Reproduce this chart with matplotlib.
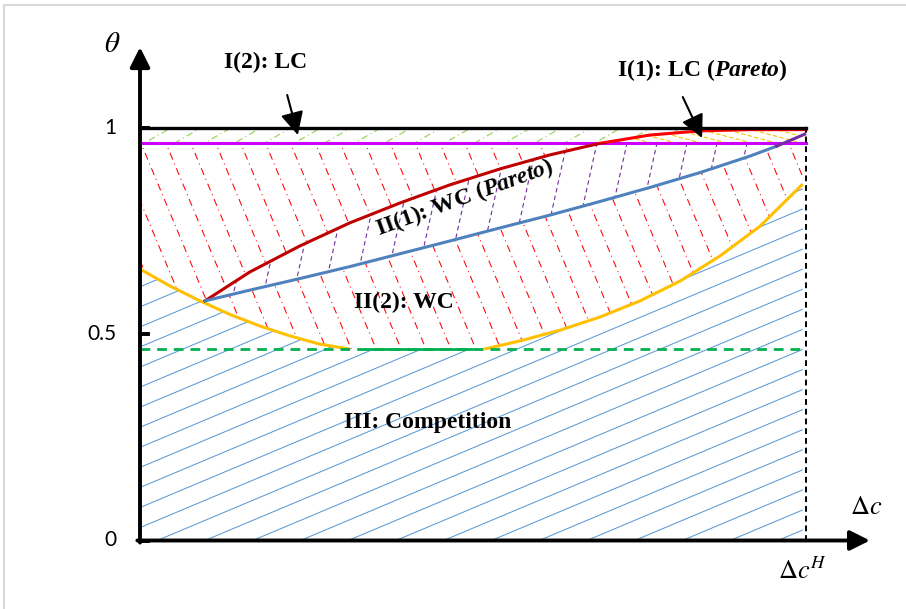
import matplotlib
matplotlib.use('Agg')
import matplotlib.pyplot as plt
import numpy as np
from matplotlib.collections import LineCollection
from matplotlib.patches import Polygon, Rectangle

plt.rcParams['mathtext.fontset'] = 'custom'
plt.rcParams['mathtext.rm'] = 'Liberation Serif:bold'
plt.rcParams['mathtext.it'] = 'Liberation Serif:italic'
plt.rcParams['mathtext.bf'] = 'Liberation Serif:bold'
plt.rcParams['mathtext.bfit'] = 'Liberation Serif:bold:italic'

# boundary curves (x = dc / dc^H, y = theta)
yl_x = np.array([0.0, 0.045, 0.090, 0.135, 0.180, 0.225, 0.270, 0.315])
yl_t = np.array([0.658, 0.617, 0.581, 0.548, 0.520, 0.496, 0.476, 0.464])
yr_x = np.array([0.517, 0.571, 0.631, 0.691, 0.751, 0.811, 0.871, 0.931, 0.995])
yr_t = np.array([0.464, 0.484, 0.510, 0.542, 0.581, 0.629, 0.690, 0.762, 0.864])
green_t = 0.464
green_solid = [0.338, 0.498]
mag_t = 0.964
red_x = np.array([0.0976, 0.165, 0.240, 0.315, 0.390, 0.465, 0.541, 0.616, 0.691,
                  0.766, 0.841, 0.916, 1.0])
red_t = np.array([0.581, 0.651, 0.714, 0.770, 0.818, 0.862, 0.901, 0.935, 0.963,
                  0.983, 0.993, 0.996, 0.996])
blue_x = np.array([0.0976, 0.165, 0.240, 0.315, 0.390, 0.465, 0.541, 0.616, 0.691,
                   0.766, 0.841, 0.916, 0.956])
blue_t = np.array([0.581, 0.607, 0.635, 0.664, 0.695, 0.726, 0.758, 0.789, 0.822,
                   0.856, 0.892, 0.932, 0.956])
purple_x = np.array([0.956, 0.998])
purple_t = np.array([0.956, 0.985])

yticks = [0, 0.5, 1]
yticklabels = ['0', '0.5', '1']

PX_X, PX_Y = 666.0, 412.5

fig = plt.figure(figsize=(9.06, 6.09), dpi=100)
ax = fig.add_axes([0, 0, 1, 1])
ax.set_xlim(-140 / PX_X, (906 - 140) / PX_X)
ax.set_ylim((540.5 - 609) / PX_Y, 540.5 / PX_Y)
ax.axis('off')

fig.patches.append(Rectangle((4 / 906, -0.1), 1.2, 1.1 - 5 / 609, transform=fig.transFigure,
                             fill=False, edgecolor='#D9D9D9', lw=1.5))


def hatch(poly_xy, angle, gap, color, lw, dashes=None):
    poly = Polygon(poly_xy, closed=True, fill=False, edgecolor='none')
    ax.add_patch(poly)
    a = np.deg2rad(angle)
    d = np.array([np.cos(a), np.sin(a)])
    n = np.array([-np.sin(a), np.cos(a)])
    segs = []
    for off in np.arange(-900, 900, gap):
        c = n * off + np.array([333.0, 206.0])
        p0, p1 = c - d * 900, c + d * 900
        segs.append([(p0[0] / PX_X, p0[1] / PX_Y), (p1[0] / PX_X, p1[1] / PX_Y)])
    ls = 'solid' if dashes is None else [(0, dashes)]
    lc = LineCollection(segs, colors=color, linewidths=lw, linestyles=ls, zorder=1)
    ax.add_collection(lc)
    lc.set_clip_path(poly)


# crossings with the magenta line
xc_red = np.interp(mag_t, red_t[:10], red_x[:10])
bp_x = np.concatenate([blue_x, purple_x[1:]])
bp_t = np.concatenate([blue_t, purple_t[1:]])
xc_blue = np.interp(mag_t, bp_t, bp_x)
lo = red_t < mag_t
hi = ~lo

# III: competition
p3 = [(0, 0), (yr_x[-1], 0)] + list(zip(yr_x[::-1], yr_t[::-1])) + list(zip(yl_x[::-1], yl_t[::-1]))
hatch(p3, 22.8, 18.5, '#5B9BD5', 0.75)

# II(2) region, two parts
left_y = yl_x < red_x[0]
p2a = ([(0, mag_t), (xc_red, mag_t)] + list(zip(red_x[lo][::-1], red_t[lo][::-1]))
       + list(zip(yl_x[left_y][::-1], yl_t[left_y][::-1])))
p2b = (list(zip(blue_x, blue_t)) + [(xc_blue, mag_t), (1.0, mag_t)]
       + list(zip(yr_x[::-1], yr_t[::-1])) + list(zip(yl_x[~left_y][::-1], yl_t[~left_y][::-1])))
for p in (p2a, p2b):
    hatch(p, -67.4, 23.0, '#FF0000', 0.75, (7, 4, 1, 4))

# II(1)
p21 = list(zip(red_x[lo], red_t[lo])) + [(xc_red, mag_t), (xc_blue, mag_t)] + list(zip(blue_x[::-1], blue_t[::-1]))
hatch(p21, 77.5, 29.3, '#7030A0', 0.8, (4, 3))

# I(1)
p11 = [(xc_red, mag_t)] + list(zip(red_x[hi], red_t[hi])) + [(1.0, 1.0), (1.0, mag_t)]
hatch(p11, -15, 6.5, '#FFC000', 0.8, (4, 2))

# I(2)
p12 = [(0, mag_t), (xc_red, mag_t)] + list(zip(red_x[hi], red_t[hi])) + [(1.0, 1.0), (0, 1.0)]
hatch(p12, 30, 15, '#92D050', 0.8, (6, 3, 1, 3))

# boundary lines
ax.plot(yl_x, yl_t, color='#FFC000', lw=2.2, zorder=3, solid_capstyle='butt')
ax.plot(yr_x, yr_t, color='#FFC000', lw=2.2, zorder=3, solid_capstyle='butt')
ax.plot([0, 1.0], [green_t, green_t], color='#00B050', lw=2.0, dashes=(3.5, 2.5), zorder=3)
ax.plot(green_solid, [green_t, green_t], color='#00B050', lw=2.0, zorder=3)
ax.plot([0, 1.0], [mag_t, mag_t], color='#CC00FF', lw=2.2, zorder=3)
rl, = ax.plot(red_x, red_t, color='#C00000', lw=2.2, zorder=4)
rl.set_clip_path(Rectangle((-1, -1), 3, 1 + mag_t, transform=ax.transData))
rh, = ax.plot(red_x, red_t, color='#FF0000', lw=2.2, zorder=4)
rh.set_clip_path(Rectangle((-1, mag_t), 3, 2, transform=ax.transData))
ax.plot(blue_x, blue_t, color='#4F81BD', lw=2.2, zorder=4)
ax.plot(purple_x, purple_t, color='#7030A0', lw=2.2, zorder=4)
ax.plot([1.0, 1.0], [0, 1.007], color='black', lw=1.4, dashes=(3, 2), zorder=4)
ax.plot([0, 1.0], [1, 1], color='black', lw=2.4, zorder=5)

# axes
head = dict(arrowstyle='-|>,head_length=0.6,head_width=0.3', lw=2.8,
            color='black', mutation_scale=20, shrinkA=0, shrinkB=0)
ax.annotate('', xy=(0, 1.196), xytext=(0, -0.005), arrowprops=head, zorder=6)
ax.annotate('', xy=(1.096, 0), xytext=(-0.004, 0), arrowprops=head, zorder=6)
for t, lab in zip(yticks, yticklabels):
    ax.plot([0, 0.012], [t, t], color='black', lw=2.8, zorder=6)
    ax.text(-0.035, t, lab, ha='right', va='center', fontsize=15, family='Lato')

ax.text(-0.042, 1.204, r'$\theta$', ha='center', va='center', fontsize=21, math_fontfamily='stix')
ax.text(1.090, 0.081, r'$\Delta c$', ha='center', va='center', fontsize=19, math_fontfamily='stix')
ax.text(0.995, -0.076, r'$\Delta c^{H}$', ha='center', va='center', fontsize=19, math_fontfamily='stix')

# region labels
lab = dict(ha='center', va='center', fontsize=17, family='Liberation Serif', weight='bold', zorder=7)
ax.text(0.188, 1.160, 'I(2): LC', **lab)
ax.text(0.844, 1.140, r'I(1): LC ($\mathbfit{Pareto}$)', **lab)
ax.text(0.487, 0.830, r'II(1): WC ($\mathbfit{Pareto}$)', rotation=20, **lab)
ax.text(0.396, 0.576, 'II(2): WC', **lab)
ax.text(0.432, 0.287, 'III: Competition', **lab)

arrow = dict(arrowstyle='-|>,head_length=0.7,head_width=0.35', lw=1.5, color='black',
             mutation_scale=20, shrinkA=0, shrinkB=0)
ax.annotate('', xy=(0.237, 0.983), xytext=(0.221, 1.080), arrowprops=arrow, zorder=7)
ax.annotate('', xy=(0.844, 0.976), xytext=(0.815, 1.075), arrowprops=arrow, zorder=7)

fig.savefig('out.png', dpi=100)
